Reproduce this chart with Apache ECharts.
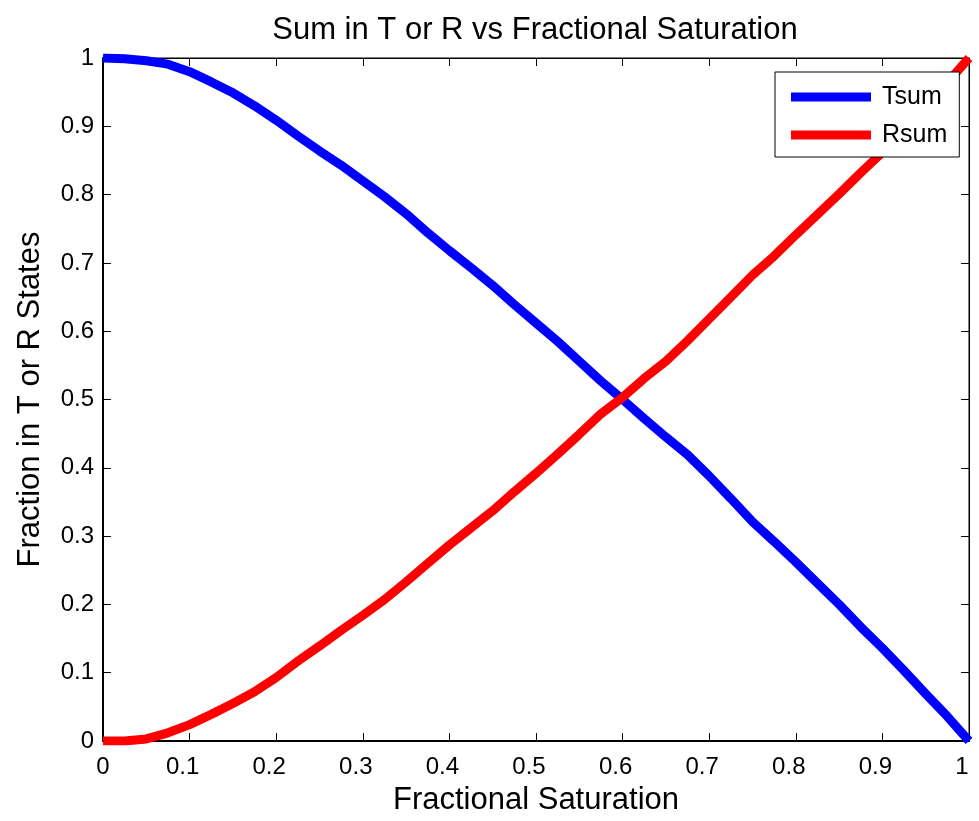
<!DOCTYPE html>
<html>
<head>
<meta charset="utf-8">
<script src="https://cdn.jsdelivr.net/npm/echarts@6/dist/echarts.min.js"></script>
<style>
html,body{margin:0;padding:0;background:#fff;}
#chart{width:979px;height:821px;}
</style>
</head>
<body>
<div id="chart"></div>
<script>
const xValues = [0,0.025,0.05,0.075,0.1,0.125,0.15,0.175,0.2,0.225,0.25,0.275,0.3,0.325,0.35,0.375,0.4,0.425,0.45,0.475,0.5,0.525,0.55,0.575,0.6,0.625,0.65,0.675,0.7,0.725,0.75,0.775,0.8,0.825,0.85,0.875,0.9,0.925,0.95,0.975,1.0];
const tsum = [1.0,0.999,0.996,0.991,0.980,0.965,0.949,0.930,0.909,0.886,0.864,0.843,0.820,0.797,0.772,0.744,0.718,0.693,0.667,0.639,0.612,0.585,0.556,0.527,0.500,0.472,0.445,0.419,0.388,0.355,0.321,0.292,0.262,0.231,0.200,0.167,0.136,0.103,0.069,0.036,0.0];
const rsum = [0,0,0.003,0.012,0.024,0.039,0.055,0.072,0.093,0.117,0.139,0.162,0.184,0.207,0.233,0.260,0.287,0.312,0.337,0.365,0.392,0.420,0.449,0.479,0.503,0.531,0.556,0.586,0.618,0.650,0.682,0.710,0.741,0.771,0.801,0.832,0.862,0.895,0.931,0.964,1.0];
const titleText = 'Sum in T or R vs Fractional Saturation';
const xName = 'Fractional Saturation';
const yName = 'Fraction in T or R States';
const seriesNames = ['Tsum','Rsum'];

const font = 'Liberation Sans, Arial, sans-serif';
const chart = echarts.init(document.getElementById('chart'), null, {renderer:'canvas'});
const pair = (ys) => xValues.map((x,i)=>[x, ys[i]]);
const tickStyle = {show:true, inside:true, length:8, lineStyle:{color:'#000', width:1}};
chart.setOption({
  backgroundColor:'#fff',
  animation:false,
  title:{text:titleText, left:530, textAlign:'center', top:10,
    textStyle:{fontFamily:font, fontSize:31, fontWeight:'normal', color:'#000'}},
  grid:{left:103, top:58, width:866, height:684, show:true, borderColor:'#000', borderWidth:1, backgroundColor:'#fff'},
  legend:{orient:'vertical', left:775, top:72, data:seriesNames,
    icon:'rect', itemWidth:80, itemHeight:9, itemGap:10,
    padding:[11,12,8,16], borderColor:'#000', borderWidth:1, backgroundColor:'#fff',
    textStyle:{fontFamily:font, fontSize:25, color:'#000', lineHeight:28, padding:[0,0,0,6]}},
  xAxis:[{type:'value', min:0, max:1, interval:0.1, position:'bottom',
    name:xName, nameLocation:'middle', nameGap:44,
    nameTextStyle:{fontFamily:font, fontSize:31, color:'#000'},
    axisLine:{show:true, onZero:false, lineStyle:{color:'#000', width:2}},
    axisTick:tickStyle, splitLine:{show:false},
    axisLabel:{fontFamily:font, fontSize:24, color:'#000', margin:14,
      formatter:(v)=> v===0 ? '{z|0}' : '{o|'+v+'}',
      rich:{z:{fontFamily:font, fontSize:24, color:'#000'},
            o:{fontFamily:font, fontSize:24, color:'#000', padding:[0,14,0,0]}}}},
   {type:'value', min:0, max:1, interval:0.1, position:'top',
    axisLine:{show:true, onZero:false, lineStyle:{color:'#000', width:1}},
    axisTick:tickStyle, splitLine:{show:false}, axisLabel:{show:false}}],
  yAxis:[{type:'value', min:0, max:1, interval:0.1, position:'left',
    name:yName, nameLocation:'middle', nameGap:57, nameRotate:90,
    nameTextStyle:{fontFamily:font, fontSize:31, color:'#000'},
    axisLine:{show:true, onZero:false, lineStyle:{color:'#000', width:2}},
    axisTick:tickStyle, splitLine:{show:false},
    axisLabel:{fontFamily:font, fontSize:24, color:'#000', margin:9}},
   {type:'value', min:0, max:1, interval:0.1, position:'right',
    axisLine:{show:true, onZero:false, lineStyle:{color:'#000', width:1}},
    axisTick:tickStyle, splitLine:{show:false}, axisLabel:{show:false}}],
  series:[
    {name:seriesNames[0], type:'line', data:pair(tsum), showSymbol:false, symbol:'none',
     smooth:false, clip:true, color:'#0000ff', lineStyle:{color:'#0000ff', width:9}},
    {name:seriesNames[1], type:'line', data:pair(rsum), showSymbol:false, symbol:'none',
     smooth:false, clip:true, color:'#ff0000', lineStyle:{color:'#ff0000', width:9}}
  ]
});
</script>
</body>
</html>
